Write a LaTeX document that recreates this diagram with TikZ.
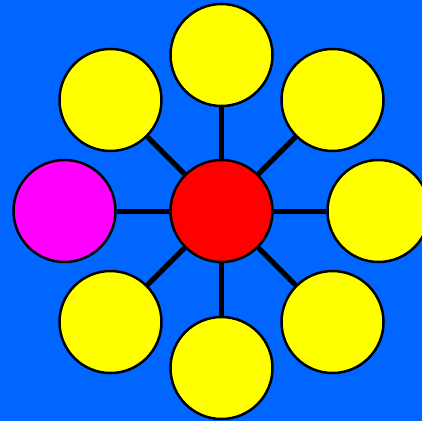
\documentclass[tikz,border=0pt]{standalone}
\usetikzlibrary{calc}
\definecolor{bg}{RGB}{0,102,255}
\definecolor{yel}{RGB}{255,255,0}
\definecolor{rd}{RGB}{255,0,0}
\definecolor{mag}{RGB}{255,0,255}
\begin{document}
\begin{tikzpicture}[x=1pt,y=1pt,
  ball/.style={circle,draw=black,line width=2.5pt,minimum size=102pt,inner sep=0pt},
  spoke/.style={line width=5pt,black}]
\fill[bg] (0,0) rectangle (422,421);
\useasboundingbox (0,0) rectangle (422,421);
\coordinate (c) at (221.5,210);
\node[ball,fill=rd] (hub) at (c) {};
\node[ball,fill=yel] (n90) at ($(c)+(90:156)$) {};
\node[ball,fill=yel] (n45) at ($(c)+(45:157)$) {};
\node[ball,fill=yel] (n0) at ($(c)+(0:157)$) {};
\node[ball,fill=yel] (n315) at ($(c)+(315:157)$) {};
\node[ball,fill=yel] (n270) at ($(c)+(270:157)$) {};
\node[ball,fill=yel] (n225) at ($(c)+(225:157)$) {};
\node[ball,fill=mag] (n180) at ($(c)+(180:157)$) {};
\node[ball,fill=yel] (n135) at ($(c)+(135:157)$) {};
\foreach \a in {0,45,90,135,180,225,270,315}
  \draw[spoke] (hub) -- (n\a);
\end{tikzpicture}
\end{document}
